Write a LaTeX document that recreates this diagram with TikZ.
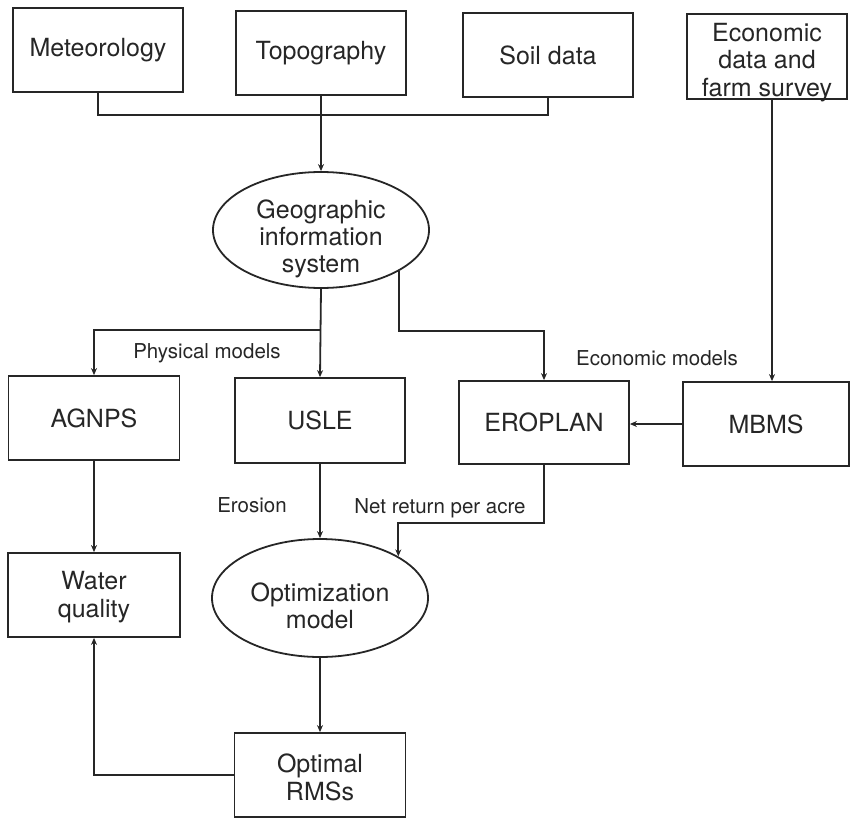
\documentclass[tikz,border=0pt]{standalone}
\usepackage{fontspec}
\setmainfont{TeX Gyre Heros}
\usetikzlibrary{arrows.meta,shapes.geometric}
\begin{document}
\begin{tikzpicture}[x=1pt,y=-1pt,
  line/.style={line width=1.8pt,draw=black!85},
  arr/.style={line,-{Stealth[length=7pt,width=6pt]}},
  box/.style={line,rectangle,inner sep=0pt,align=center,
    font=\fontsize{25}{27.5}\selectfont,text=black!85},
  oval/.style={line,ellipse,inner sep=0pt},
  inner text/.style={inner sep=0pt,align=center,
    font=\fontsize{25}{27}\selectfont,text=black!85},
  lbl/.style={inner sep=0pt,font=\fontsize{20.5}{24}\selectfont,text=black!85}]
\useasboundingbox (0,0) rectangle (853,818);

% data sources
\node[box,minimum width=170pt,minimum height=84pt] (met)  at (98,50)    {Meteorology};
\node[box,minimum width=170pt,minimum height=84pt] (topo) at (321,53)   {Topography};
\node[box,minimum width=170pt,minimum height=84pt] (soil) at (548,55)   {Soil data};
\node[box,minimum width=160pt,minimum height=85pt,
  label={[inner text,font=\fontsize{25}{27.5}\selectfont,yshift=-6pt]center:{Economic\\data and\\farm survey}}]
  (econ) at (767,56.5) {};

% GIS
\node[oval,minimum width=216pt,minimum height=116pt,
  label={[inner text,yshift=-9pt]center:{Geographic\\information\\system}}]
  (gis) at (321,230) {};

% models
\node[box,minimum width=171pt,minimum height=84pt] (agnps)   at (94,418)    {AGNPS};
\node[box,minimum width=170pt,minimum height=85pt] (usle)    at (320,420.5) {USLE};
\node[box,minimum width=170pt,minimum height=83pt] (eroplan) at (544,422.5) {EROPLAN};
\node[box,minimum width=166pt,minimum height=84pt] (mbms)    at (766,424)   {MBMS};

% outputs
\node[box,minimum width=172pt,minimum height=84pt,
  label={[inner text,font=\fontsize{25}{28}\selectfont,yshift=-2pt]center:{Water\\quality}}]
  (water) at (94,595) {};
\node[oval,minimum width=216pt,minimum height=118pt,
  label={[inner text,yshift=-8pt]center:{Optimization\\model}}]
  (opt) at (320,598) {};
\node[box,minimum width=171pt,minimum height=84pt,
  label={[inner text,font=\fontsize{25}{28}\selectfont,yshift=-2pt]center:{Optimal\\RMSs}}]
  (rms) at (320,775) {};

% edge labels
\node[lbl] (lphys) at (207,353) {Physical models};
\node[lbl] (lecon) at (657,358) {Economic models};
\node[lbl] (lero)  at (252,505) {Erosion};
\node[lbl] (lnet)  at (440,508) {Net return per acre};

% data bus into the GIS
\coordinate (bus) at (0,115);
\draw[line] (met.south) |- (bus -| soil.south) -- (soil.south);
\draw[arr] (topo.south) -- (gis.north);

% GIS to the physical models
\coordinate (split) at (0,330);
\draw[arr] (gis.south) -- (usle.north);
\draw[arr] (gis.south |- split) -| (agnps.north);

% GIS to the economic model
\coordinate (econrow) at (0,331);
\draw[arr] (gis.-28) -- (gis.-28 |- econrow) -| (eroplan.north);

% farm data into MBMS, MBMS into EROPLAN
\draw[arr] ([xshift=5pt]econ.south) -- ([xshift=6pt]mbms.north);
\draw[arr] (mbms.west) -- (mbms.west -| eroplan.east);

% physical chain
\draw[arr] (agnps.south) -- (water.north);
\draw[arr] (usle.south) -- (opt.north);

% net return into the optimization model
\coordinate (netrow) at (0,523);
\draw[arr] (eroplan.south) |- (opt.28 |- netrow) -- (opt.28);

% results
\draw[arr] (opt.south) -- (rms.north);
\draw[arr] (rms.west) -| (water.south);
\end{tikzpicture}
\end{document}
